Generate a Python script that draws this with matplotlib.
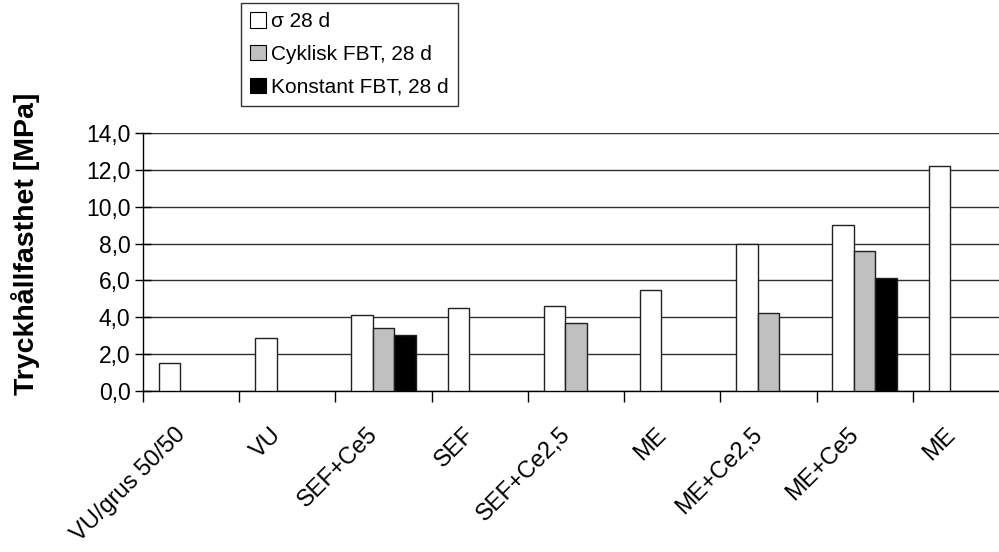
import numpy as np
import matplotlib
matplotlib.use("Agg")
import matplotlib.pyplot as plt
from matplotlib.patches import Patch
from matplotlib.ticker import FixedLocator, FuncFormatter
import matplotlib.transforms as mtransforms

plt.rcParams['font.family'] = ['Liberation Sans', 'DejaVu Sans']

categories = ["VU/grus 50/50", "VU", "SEF+Ce5", "SEF", "SEF+Ce2,5",
              "ME", "ME+Ce2,5", "ME+Ce5", "ME"]
sigma_28 = [1.5, 2.85, 4.15, 4.5, 4.6, 5.5, 8.0, 9.0, 12.2]
cyklisk_28 = [np.nan, np.nan, 3.4, np.nan, 3.7, np.nan, 4.25, 7.6, np.nan]
konstant_28 = [np.nan, np.nan, 3.05, np.nan, np.nan, np.nan, np.nan, 6.15, np.nan]
series_labels = ["σ 28 d", "Cyklisk FBT, 28 d", "Konstant FBT, 28 d"]
colors = ["white", "#c0c0c0", "black"]

fig = plt.figure(figsize=(9.99, 5.52), dpi=100)
W, H = 999, 552
ax = fig.add_axes([143 / W, 1 - 391 / H, (1009 - 143) / W, (391 - 133) / H])

x = np.arange(len(categories))
bw = 0.223
for i, (vals, c) in enumerate(zip([sigma_28, cyklisk_28, konstant_28], colors)):
    ax.bar(x + (i - 1) * bw, vals, width=bw, color=c, edgecolor="#202020",
           linewidth=1.0, zorder=3)

ax.set_xlim(-0.5, len(categories) - 0.5)
ax.set_ylim(0, 14)
ax.set_yticks(np.arange(0, 14.1, 2))
ax.yaxis.set_major_formatter(FuncFormatter(lambda v, p: f"{v:.1f}".replace(".", ",")))
ax.grid(axis="y", color="#303030", linewidth=1.0, zorder=0)

# category boundaries get the tick marks, centres get the labels
ax.xaxis.set_major_locator(FixedLocator(np.arange(-0.5, len(categories), 1.0)))
ax.xaxis.set_minor_locator(FixedLocator(x))
ax.tick_params(axis="x", which="major", length=8, width=1, labelbottom=False,
               direction="out", color="black")
ax.tick_params(axis="x", which="minor", length=0, pad=29, labelsize=17)
ax.set_xticks(x, categories, minor=True)
offset = mtransforms.ScaledTranslation(-9 / 100, 0, fig.dpi_scale_trans)
for lab in ax.xaxis.get_minorticklabels():
    lab.set_rotation(45)
    lab.set_ha("right")
    lab.set_va("center")
    lab.set_rotation_mode("anchor")
    lab.set_transform(lab.get_transform() + offset)

ax.tick_params(axis="y", direction="inout", length=12, width=1, labelsize=16.5, pad=3)

for s in ["top", "right"]:
    ax.spines[s].set_visible(False)
ax.spines["left"].set_linewidth(1.0)
ax.spines["bottom"].set_linewidth(1.0)

fig.text(26 / W, 1 - 244 / H, "Tryckhållfasthet [MPa]", rotation=90,
         ha="center", va="center", fontsize=20.5, fontweight="bold")

handles = [Patch(facecolor=c, edgecolor="black", linewidth=0.8) for c in colors]
leg = fig.legend(handles, series_labels, loc="upper left",
                 bbox_to_anchor=(241 / W, 1 - 3 / H), borderaxespad=0,
                 fontsize=15, frameon=True, fancybox=False, shadow=False,
                 handlelength=0.75, handleheight=0.75, handletextpad=0.25,
                 labelspacing=0.65, borderpad=0.45)
leg.get_frame().set_edgecolor("black")
leg.get_frame().set_linewidth(1.0)

fig.savefig("out.png", dpi=100)
